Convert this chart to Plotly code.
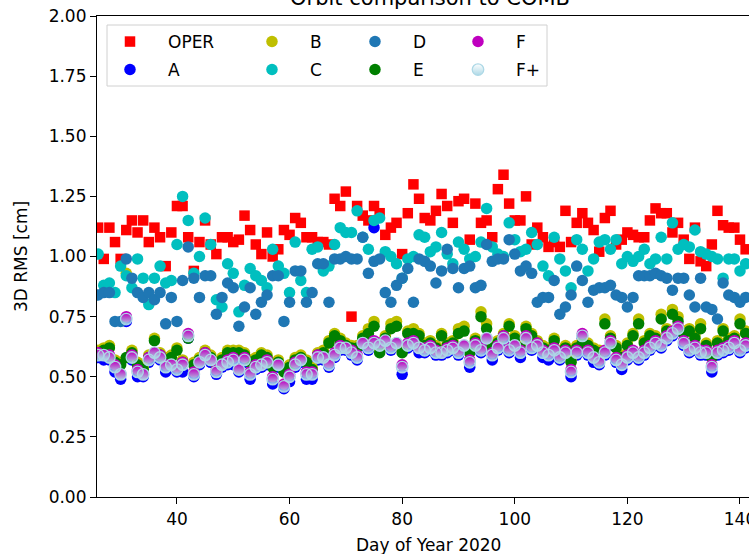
import plotly.graph_objects as go

days = list(range(26, 142))

oper = [1.12, 0.99, 1.12, 1.06, 0.99, 1.11, 1.15, 1.10, 1.15, 1.06,
        1.12, 1.08, 0.96, 1.10, 1.21, 1.21, 1.08, 0.94, 1.06, 1.15,
        1.05, 1.01, 1.08, 1.08, 1.06, 1.07, 1.17, 1.11, 1.05, 1.01,
        1.10, 1.00, 1.03, 1.11, 1.09, 1.16, 1.14, 1.08, 1.08, 1.06,
        1.06, 1.05, 1.24, 1.21, 1.27, 0.75, 1.21, 1.17, 1.15, 1.21,
        1.18, 1.09, 1.12, 1.14, 1.01, 1.18, 1.30, 1.24, 1.16, 1.15,
        1.19, 1.26, 1.21, 1.14, 1.23, 1.24, 1.07, 1.22, 1.14, 1.15,
        1.08, 1.28, 1.34, 1.22, 1.15, 1.15, 1.25, 1.05, 1.12, 1.08,
        1.04, 1.06, 1.04, 1.19, 1.06, 1.14, 1.18, 1.14, 1.11, 1.02,
        1.16, 1.19, 1.05, 1.07, 1.10, 1.09, 1.08, 1.08, 1.15, 1.20,
        1.18, 1.18, 1.10, 1.14, 1.07, 0.99, 1.12, 0.98, 0.96, 1.05,
        1.19, 1.13, 1.12, 1.12, 1.07, 1.03]

sol_a = [0.58, 0.57, 0.57, 0.52, 0.49, 0.73, 0.57, 0.50, 0.50, 0.56,
         0.59, 0.57, 0.52, 0.54, 0.52, 0.52, 0.66, 0.50, 0.55, 0.58,
         0.56, 0.51, 0.54, 0.55, 0.55, 0.52, 0.56, 0.49, 0.53, 0.54,
         0.55, 0.47, 0.54, 0.45, 0.48, 0.54, 0.56, 0.49, 0.49, 0.57,
         0.57, 0.54, 0.58, 0.61, 0.61, 0.59, 0.57, 0.63, 0.61, 1.12,
         0.62, 0.64, 0.61, 0.63, 0.51, 0.62, 0.63, 0.60, 0.60, 0.61,
         0.59, 0.59, 0.60, 0.61, 0.59, 0.62, 0.54, 0.62, 0.60, 0.65,
         0.57, 0.61, 0.65, 0.60, 0.62, 0.58, 0.65, 0.61, 0.62, 0.58,
         0.57, 0.60, 0.57, 0.59, 0.50, 0.59, 0.66, 0.59, 0.56, 0.55,
         0.59, 0.63, 0.56, 0.53, 0.57, 0.59, 0.57, 0.59, 0.61, 0.63,
         0.62, 0.65, 0.67, 0.69, 0.63, 0.60, 0.61, 0.59, 0.59, 0.52,
         0.59, 0.60, 0.61, 0.63, 0.60, 0.62]

sol_b = [0.61, 0.62, 0.63, 0.57, 0.56, 0.93, 0.61, 0.56, 0.54, 0.59,
         0.66, 0.60, 0.58, 0.59, 0.62, 0.57, 0.67, 0.56, 0.58, 0.61,
         0.59, 0.56, 0.58, 0.61, 0.61, 0.61, 0.60, 0.57, 0.58, 0.60,
         0.59, 0.55, 0.57, 0.53, 0.55, 0.58, 0.59, 0.57, 0.54, 0.60,
         0.61, 0.65, 0.68, 0.66, 0.64, 0.63, 0.63, 0.67, 0.70, 0.73,
         0.61, 0.67, 0.72, 0.73, 0.61, 0.69, 0.70, 0.68, 0.64, 0.65,
         0.63, 0.68, 0.64, 0.65, 0.70, 0.71, 0.61, 0.66, 0.77, 0.72,
         0.63, 0.65, 0.68, 0.72, 0.67, 0.63, 0.71, 0.68, 0.65, 0.63,
         0.62, 0.66, 0.61, 0.63, 0.57, 0.63, 0.65, 0.64, 0.62, 0.61,
         0.74, 0.67, 0.63, 0.59, 0.64, 0.68, 0.74, 0.65, 0.68, 0.67,
         0.76, 0.70, 0.78, 0.75, 0.69, 0.70, 0.67, 0.72, 0.64, 0.59,
         0.65, 0.70, 0.66, 0.67, 0.74, 0.69]

sol_c = [1.01, 0.88, 0.89, 0.85, 0.96, 0.92, 0.87, 0.99, 0.91, 0.80,
         0.91, 0.96, 0.89, 0.90, 1.05, 1.25, 1.15, 0.93, 1.00, 1.16,
         1.05, 0.82, 0.79, 0.97, 0.93, 0.77, 0.88, 0.95, 0.92, 0.90,
         0.87, 1.03, 0.96, 0.93, 0.85, 1.06, 0.90, 0.85, 1.03, 1.04,
         0.94, 0.96, 1.05, 1.12, 1.10, 1.10, 1.19, 1.08, 1.03, 1.15,
         1.16, 1.02, 1.00, 0.97, 0.91, 0.99, 1.00, 1.09, 1.08, 1.02,
         1.04, 1.10, 1.01, 0.97, 1.06, 1.03, 0.99, 1.00, 1.06, 1.20,
         1.04, 1.01, 1.00, 1.14, 1.07, 1.02, 1.03, 1.10, 1.05, 0.96,
         0.92, 1.08, 0.99, 0.94, 0.87, 1.07, 1.03, 0.94, 0.99, 1.06,
         1.07, 1.03, 1.07, 0.97, 1.00, 0.98, 1.00, 1.03, 0.97, 0.99,
         1.08, 0.99, 1.14, 1.03, 1.05, 1.04, 1.11, 1.02, 1.01, 1.00,
         0.99, 0.91, 0.99, 0.99, 0.94, 0.97]

sol_d = [0.84, 0.85, 0.85, 0.73, 0.73, 0.99, 0.91, 0.85, 0.83, 0.85,
         0.82, 0.85, 0.72, 0.83, 0.73, 0.90, 1.04, 0.91, 0.83, 0.92,
         0.92, 0.76, 0.83, 0.89, 0.87, 0.71, 0.79, 0.87, 0.76, 0.81,
         0.84, 0.92, 0.92, 0.73, 0.81, 0.94, 0.94, 0.81, 0.85, 0.97,
         0.97, 0.81, 0.99, 0.99, 1.00, 0.99, 0.99, 1.08, 0.93, 0.98,
         0.99, 0.85, 0.81, 0.88, 0.91, 0.95, 0.81, 0.99, 0.98, 0.96,
         0.89, 0.94, 1.03, 0.95, 0.87, 0.95, 0.96, 0.87, 0.88, 1.05,
         0.98, 0.99, 0.99, 1.07, 1.01, 0.94, 0.96, 0.93, 0.81, 0.83,
         0.83, 0.90, 0.76, 0.79, 0.84, 0.96, 0.90, 0.81, 0.86, 0.87,
         0.87, 0.88, 0.84, 0.83, 0.79, 0.83, 0.92, 0.92, 0.92, 0.93,
         0.92, 0.91, 0.86, 0.91, 0.91, 0.84, 0.79, 0.91, 0.79, 0.78,
         0.74, 0.89, 0.84, 0.83, 0.81, 0.83]

sol_e = [0.60, 0.61, 0.62, 0.56, 0.55, 0.58, 0.60, 0.55, 0.53, 0.58,
         0.65, 0.59, 0.57, 0.58, 0.61, 0.56, 0.66, 0.55, 0.57, 0.60,
         0.58, 0.55, 0.57, 0.60, 0.60, 0.60, 0.59, 0.56, 0.57, 0.59,
         0.58, 0.54, 0.56, 0.52, 0.54, 0.57, 0.58, 0.56, 0.53, 0.59,
         0.60, 0.64, 0.67, 0.65, 0.63, 0.62, 0.62, 0.66, 0.68, 0.71,
         0.60, 0.66, 0.70, 0.71, 0.60, 0.68, 0.68, 0.67, 0.63, 0.64,
         0.62, 0.67, 0.63, 0.64, 0.68, 0.69, 0.60, 0.65, 0.75, 0.70,
         0.62, 0.64, 0.67, 0.71, 0.66, 0.62, 0.70, 0.67, 0.64, 0.62,
         0.61, 0.65, 0.60, 0.62, 0.56, 0.62, 0.64, 0.63, 0.61, 0.60,
         0.72, 0.66, 0.62, 0.58, 0.63, 0.67, 0.72, 0.64, 0.67, 0.66,
         0.74, 0.69, 0.76, 0.73, 0.68, 0.69, 0.66, 0.70, 0.63, 0.58,
         0.64, 0.69, 0.65, 0.66, 0.72, 0.68]

sol_f = [0.60, 0.59, 0.59, 0.55, 0.51, 0.75, 0.59, 0.53, 0.51, 0.58,
         0.60, 0.59, 0.55, 0.55, 0.54, 0.56, 0.68, 0.52, 0.56, 0.60,
         0.57, 0.53, 0.55, 0.57, 0.58, 0.53, 0.58, 0.52, 0.55, 0.55,
         0.57, 0.50, 0.55, 0.47, 0.51, 0.56, 0.57, 0.52, 0.52, 0.59,
         0.58, 0.56, 0.60, 0.63, 0.62, 0.61, 0.59, 0.64, 0.63, 0.65,
         0.64, 0.65, 0.63, 0.64, 0.55, 0.64, 0.65, 0.62, 0.62, 0.63,
         0.61, 0.60, 0.62, 0.63, 0.61, 0.63, 0.57, 0.64, 0.62, 0.66,
         0.60, 0.63, 0.67, 0.62, 0.63, 0.61, 0.67, 0.63, 0.64, 0.61,
         0.60, 0.62, 0.59, 0.61, 0.53, 0.61, 0.68, 0.61, 0.58, 0.57,
         0.61, 0.65, 0.58, 0.56, 0.59, 0.61, 0.59, 0.61, 0.63, 0.65,
         0.64, 0.67, 0.69, 0.71, 0.65, 0.62, 0.63, 0.61, 0.61, 0.55,
         0.61, 0.62, 0.63, 0.65, 0.62, 0.64]

sol_fplus = [0.59, 0.59, 0.58, 0.54, 0.51, 0.74, 0.58, 0.52, 0.51, 0.57,
             0.60, 0.58, 0.54, 0.55, 0.53, 0.55, 0.67, 0.51, 0.56, 0.59,
             0.57, 0.52, 0.55, 0.56, 0.57, 0.53, 0.57, 0.51, 0.54, 0.55,
             0.56, 0.49, 0.55, 0.46, 0.50, 0.55, 0.57, 0.51, 0.51, 0.58,
             0.58, 0.55, 0.59, 0.62, 0.62, 0.60, 0.58, 0.64, 0.62, 0.64,
             0.63, 0.65, 0.62, 0.64, 0.54, 0.63, 0.64, 0.62, 0.61, 0.62,
             0.60, 0.60, 0.61, 0.62, 0.60, 0.63, 0.56, 0.63, 0.61, 0.66,
             0.59, 0.62, 0.66, 0.61, 0.63, 0.60, 0.66, 0.62, 0.63, 0.60,
             0.59, 0.61, 0.58, 0.60, 0.52, 0.60, 0.67, 0.60, 0.58, 0.56,
             0.60, 0.64, 0.57, 0.55, 0.58, 0.60, 0.58, 0.60, 0.62, 0.64,
             0.63, 0.66, 0.68, 0.70, 0.64, 0.61, 0.62, 0.60, 0.60, 0.54,
             0.60, 0.61, 0.62, 0.64, 0.61, 0.63]

series_names = ["OPER", "A", "B", "C", "D", "E", "F", "F+"]
series_values = [oper, sol_a, sol_b, sol_c, sol_d, sol_e, sol_f, sol_fplus]
series_colors = ["#ff0000", "#0000ff", "#bfbf00", "#00bfbf", "#1f77b4",
                 "#008000", "#bf00bf", "#add8e6"]

W, H = 749, 554
ML, MR, MT, MB = 97, 0, 16, 57
PW, PH = W - ML - MR, H - MT - MB


def px_x(px):
    return (px - ML) / PW


def px_y(py):
    return (H - MB - py) / PH


FONT = "DejaVu Sans"
fig = go.Figure()

# legend placement: (marker-centre x px, row-centre y px)
leg_pos = [(130, 40), (130, 68), (272, 40), (272, 68),
           (375, 40), (375, 68), (478, 40), (478, 68)]
legend_ids = ["legend"] + ["legend%d" % i for i in range(2, 9)]

for i, (name, vals, col) in enumerate(zip(series_names, series_values, series_colors)):
    if name == "OPER":
        marker = dict(symbol="square", size=10.5, color=col, line=dict(width=0))
    elif name == "F+":
        marker = dict(symbol="circle", size=11.5, color="rgba(173,216,230,0)",
                      gradient=dict(type="vertical", color=col),
                      line=dict(width=1.3, color=col))
    else:
        marker = dict(symbol="circle", size=11.5, color=col, line=dict(width=0))
    fig.add_trace(go.Scatter(x=days, y=vals, mode="markers", name=name,
                             marker=marker, legend=legend_ids[i]))

layout_legends = {}
ITEMW = 66
for i, lid in enumerate(legend_ids):
    mx, my = leg_pos[i]
    layout_legends[lid] = dict(
        x=px_x(mx - (ITEMW + 10) / 2), xanchor="left",
        y=px_y(my - 16), yanchor="top",
        bgcolor="rgba(0,0,0,0)", borderwidth=0,
        itemwidth=ITEMW,
        font=dict(family=FONT, size=17, color="#000000"),
    )

fig.update_layout(**layout_legends)

fig.update_layout(
    width=W, height=H,
    margin=dict(l=ML, r=MR, t=MT, b=MB, pad=0, autoexpand=False),
    paper_bgcolor="white", plot_bgcolor="white",
    showlegend=True,
    font=dict(family=FONT, size=17, color="#000000"),
    xaxis=dict(range=[25.8, 141.6], tickmode="array",
               tickvals=[40, 60, 80, 100, 120, 140],
               ticks="outside", ticklen=6, tickwidth=1, tickcolor="black",
               showline=True, linecolor="black", linewidth=1.2, mirror=True,
               showgrid=False, zeroline=False, ticklabeloverflow="allow",
               automargin=False,
               tickfont=dict(family=FONT, size=17)),
    yaxis=dict(range=[0, 2.0], tickmode="array",
               tickvals=[0, 0.25, 0.5, 0.75, 1.0, 1.25, 1.5, 1.75, 2.0],
               tickformat=".2f",
               ticks="outside", ticklen=6, tickwidth=1, tickcolor="black",
               showline=True, linecolor="black", linewidth=1.2, mirror=False,
               showgrid=False, zeroline=False, automargin=False,
               tickfont=dict(family=FONT, size=17),
               title=dict(text="3D RMS [cm]", font=dict(family=FONT, size=17),
                          standoff=16)),
    shapes=[dict(type="rect", xref="paper", yref="paper",
                 x0=px_x(107), x1=px_x(547), y0=px_y(86), y1=px_y(25),
                 line=dict(color="#d0d0d0", width=1),
                 fillcolor="rgba(255,255,255,0.8)", layer="above")],
    annotations=[
        dict(text="Day of Year 2020", xref="paper", yref="paper",
             x=px_x(429), y=px_y(545), xanchor="center", yanchor="middle",
             showarrow=False, font=dict(family=FONT, size=17)),
        dict(text="Orbit comparison to COMB", xref="paper", yref="paper",
             x=px_x(430), y=px_y(-2), xanchor="center", yanchor="middle",
             showarrow=False, font=dict(family=FONT, size=21)),
    ],
)

fig.write_html(
    "out.html",
    config={"displayModeBar": False},
    post_script=("document.documentElement.style.overflow='hidden';"
                 "document.body.style.margin='0px';"
                 "document.body.style.overflow='hidden';"),
)
